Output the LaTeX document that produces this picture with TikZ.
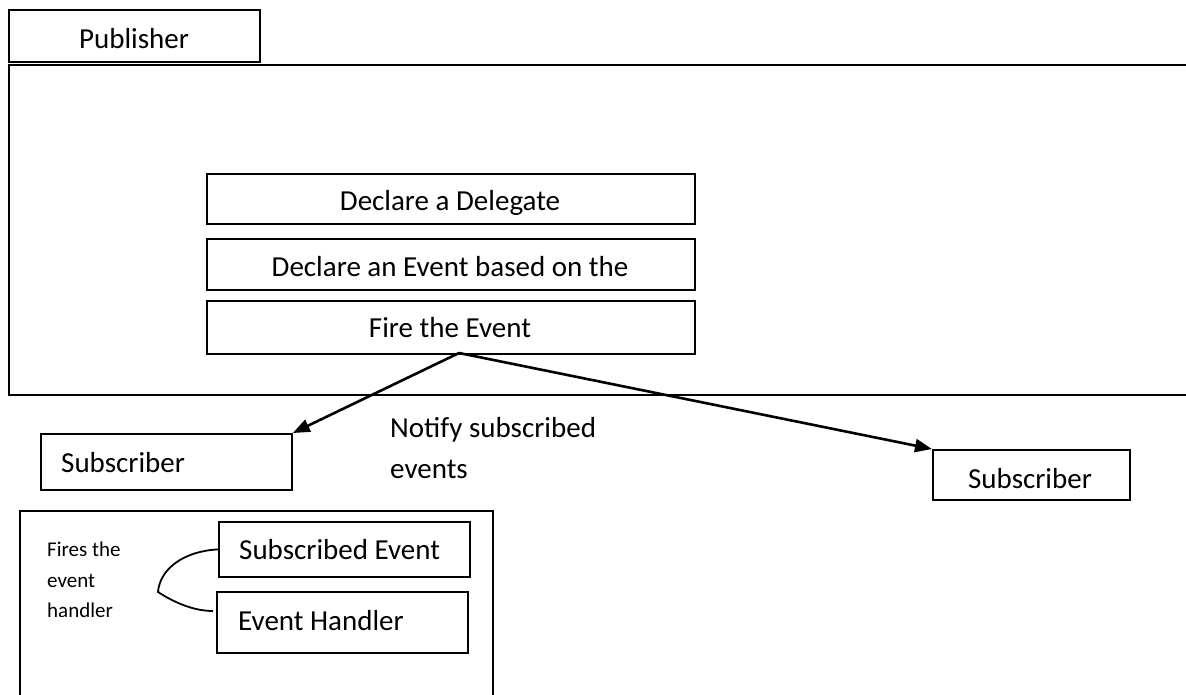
\documentclass[tikz,border=0pt]{standalone}
\usepackage{fontspec}
\setmainfont{Carlito}
\usetikzlibrary{arrows.meta}
\begin{document}
\begin{tikzpicture}[x=1pt,y=-1pt,
  box/.style={draw=black,line width=1.8pt,inner sep=0pt,anchor=north west},
  big/.style={font=\fontsize{29}{35}\selectfont},
  small/.style={font=\fontsize{21}{30}\selectfont},
  txt/.style={inner sep=0pt},
  conn/.style={line width=2.6pt,-{Triangle[length=17pt,width=13pt]}},
  frame/.style={line width=1.8pt}]
\useasboundingbox (0,0) rectangle (1186,694);
% Publisher
\node[box,minimum width=251pt,minimum height=52pt] (pub) at (8,9) {};
\node[txt,big,anchor=base] (pubt) at (134,48) {Publisher};
% big publisher frame (extends past right edge)
\draw[frame] (1200,65) -- (9,65) -- (9,395) -- (1200,395);
% inner steps
\node[box,minimum width=488pt,minimum height=50pt] (del) at (206,173) {};
\node[txt,big,anchor=base] (delt) at (450,210) {Declare a Delegate};
\node[box,minimum width=488pt,minimum height=51pt] (evt) at (206,238) {};
\node[txt,big,anchor=base] (evtt) at (450,276) {Declare an Event based on the};
\node[box,minimum width=488pt,minimum height=53pt] (fire) at (206,300) {};
\node[txt,big,anchor=base] (firet) at (450,337) {Fire the Event};
% subscribers
\node[box,minimum width=251pt,minimum height=56pt] (sub1) at (40,433) {};
\node[txt,big,anchor=base west] (sub1t) at (61,472) {Subscriber};
\node[box,minimum width=197pt,minimum height=50pt] (sub2) at (932,449) {};
\node[txt,big,anchor=base] (sub2t) at (1030,488) {Subscriber};
% connectors
\coordinate (src) at (459,353);
\draw[conn] (src) -- (sub1.north east);
\draw[conn] (src) -- (sub2.north west);
\node[txt,big,anchor=base west,align=left] (notify) at (390,437) {Notify subscribed};
\node[txt,big,anchor=base west] (notify2) at (390,478) {events};
% subscriber detail frame
\draw[frame] (20,710) -- (20,511) -- (493,511) -- (493,710);
\node[box,minimum width=251pt,minimum height=55pt] (se) at (218,521) {};
\node[txt,big,anchor=base west] (set) at (239,559) {Subscribed Event};
\node[box,minimum width=251pt,minimum height=61pt] (eh) at (216,591) {};
\node[txt,big,anchor=base west] (eht) at (238,630) {Event Handler};
\node[txt,small,anchor=base west] (f1) at (47,556) {Fires the};
\node[txt,small,anchor=base west] (f2) at (47,587) {event};
\node[txt,small,anchor=base west] (f3) at (47,617) {handler};
\coordinate (cusp) at (158,592);
\coordinate (cend) at (213,611);
\draw[line width=1.8pt] (se.west) .. controls (185,551) and (160,568) .. (cusp)
  .. controls (172,601) and (192,611) .. (cend);
\end{tikzpicture}
\end{document}
